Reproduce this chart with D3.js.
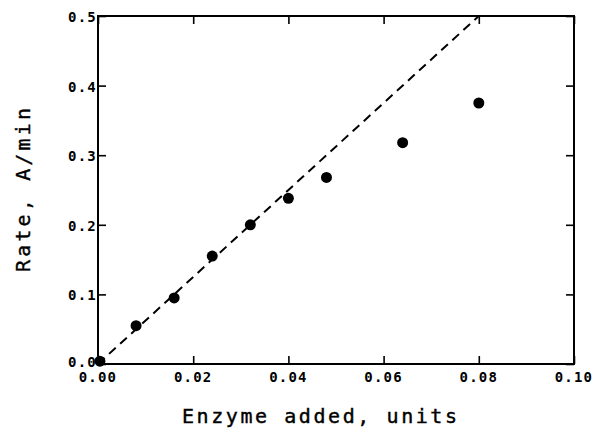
<!DOCTYPE html>
<html>
<head>
<meta charset="utf-8">
<script src="https://cdn.jsdelivr.net/npm/d3@7"></script>
<style>
  body { margin: 0; background: #fff; }
  text { font-family: "DejaVu Sans Mono", monospace; fill: #000; }
</style>
</head>
<body>
<div class="chart"></div>
<script>
// enzyme added (units) vs rate (A/min)
const enzyme = [0.0004, 0.008, 0.016, 0.024, 0.032, 0.040, 0.048, 0.064, 0.080];
const rate   = [0.004, 0.055, 0.095, 0.155, 0.200, 0.238, 0.268, 0.318, 0.375];
// dashed reference line (initial slope)
const lineX = [0, 0.08];
const lineY = [0, 0.5];
const xTicks = [0, 0.02, 0.04, 0.06, 0.08, 0.10];
const yTicks = [0, 0.1, 0.2, 0.3, 0.4, 0.5];

const width = 594, height = 428;
const plot = {left: 98, right: 574, top: 16, bottom: 364};

const x = d3.scaleLinear().domain([0, 0.1]).range([plot.left, plot.right]);
const y = d3.scaleLinear().domain([0, 0.5]).range([plot.bottom, plot.top]);

const svg = d3.select(".chart").append("svg")
    .attr("width", width)
    .attr("height", height);

// frame
svg.append("rect")
    .attr("x", plot.left).attr("y", plot.top)
    .attr("width", plot.right - plot.left)
    .attr("height", plot.bottom - plot.top)
    .attr("fill", "none").attr("stroke", "#000").attr("stroke-width", 2);

const tickLen = 8;
// inward ticks on all four sides
svg.append("g")
    .attr("transform", `translate(0,${plot.bottom})`)
    .call(d3.axisTop(x).tickValues(xTicks).tickSize(tickLen).tickFormat(""))
    .call(g => g.select(".domain").remove())
    .selectAll("line").attr("stroke-width", 1.6);
svg.append("g")
    .attr("transform", `translate(0,${plot.top})`)
    .call(d3.axisBottom(x).tickValues(xTicks).tickSize(tickLen).tickFormat(""))
    .call(g => g.select(".domain").remove())
    .selectAll("line").attr("stroke-width", 1.6);
svg.append("g")
    .attr("transform", `translate(${plot.left},0)`)
    .call(d3.axisRight(y).tickValues(yTicks).tickSize(tickLen).tickFormat(""))
    .call(g => g.select(".domain").remove())
    .selectAll("line").attr("stroke-width", 1.6);
svg.append("g")
    .attr("transform", `translate(${plot.right},0)`)
    .call(d3.axisLeft(y).tickValues(yTicks).tickSize(tickLen).tickFormat(""))
    .call(g => g.select(".domain").remove())
    .selectAll("line").attr("stroke-width", 1.6);

// tick labels
svg.append("g").selectAll("text")
    .data(xTicks).enter().append("text")
    .attr("x", d => x(d))
    .attr("y", plot.bottom + 18)
    .attr("text-anchor", "middle")
    .attr("font-size", 14)
    .attr("font-weight", "bold")
    .attr("letter-spacing", 1.2)
    .text(d => d3.format(".2f")(d));

svg.append("g").selectAll("text")
    .data(yTicks).enter().append("text")
    .attr("x", plot.left - 1)
    .attr("y", d => y(d) + (d === 0 ? 3 : 6))
    .attr("text-anchor", "end")
    .attr("font-size", 14)
    .attr("font-weight", "bold")
    .attr("letter-spacing", 1.2)
    .text(d => d3.format(".1f")(d));

// axis titles
svg.append("text")
    .attr("x", 182).attr("y", 423)
    .attr("font-size", 20)
    .attr("stroke", "#000").attr("stroke-width", 0.4)
    .attr("textLength", 275).attr("lengthAdjust", "spacing")
    .text("Enzyme added, units");

svg.append("text")
    .attr("transform", "translate(30,272) rotate(-90)")
    .attr("font-size", 20)
    .attr("stroke", "#000").attr("stroke-width", 0.4)
    .attr("textLength", 164).attr("lengthAdjust", "spacing")
    .text("Rate, A/min");

// dashed line
svg.append("line")
    .attr("x1", x(lineX[0])).attr("y1", y(lineY[0]))
    .attr("x2", x(lineX[1])).attr("y2", y(lineY[1]))
    .attr("stroke", "#000").attr("stroke-width", 2)
    .attr("stroke-dasharray", "9,6");

// points
svg.append("g").selectAll("circle")
    .data(enzyme.map((d, i) => ({e: d, r: rate[i]})))
    .enter().append("circle")
    .attr("cx", d => x(d.e))
    .attr("cy", d => y(d.r))
    .attr("r", 5.5)
    .attr("fill", "#000");
</script>
</body>
</html>
